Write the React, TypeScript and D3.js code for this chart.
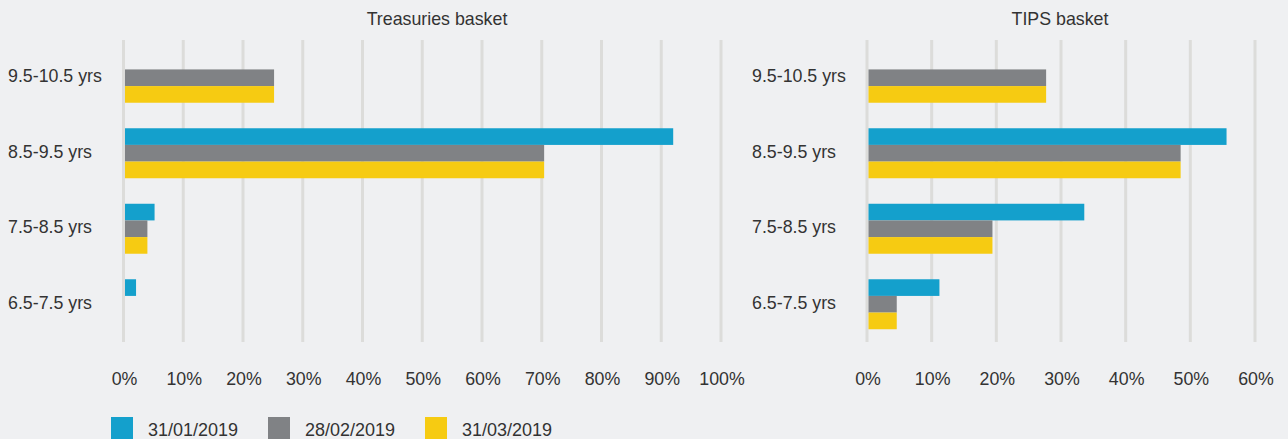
import React from "react";
import * as d3 from "d3";

const categories = ["9.5-10.5 yrs", "8.5-9.5 yrs", "7.5-8.5 yrs", "6.5-7.5 yrs"];
const seriesNames = ["31/01/2019", "28/02/2019", "31/03/2019"];
const seriesColors = ["#14a0cc", "#808285", "#f6cb12"];

const treasJan = [0, 92, 5.2, 2.1];
const treasFeb = [25.2, 70.4, 4, 0];
const treasMar = [25.2, 70.4, 4, 0];

const tipsJan = [0, 55.6, 33.6, 11.2];
const tipsFeb = [27.7, 48.5, 19.4, 4.6];
const tipsMar = [27.7, 48.5, 19.4, 4.6];

const treasTicks = [0, 10, 20, 30, 40, 50, 60, 70, 80, 90, 100];
const tipsTicks = [0, 10, 20, 30, 40, 50, 60];

const W = 1288;
const H = 439;
const FONT = "'Liberation Sans', Arial, Helvetica, sans-serif";
const TEXT = "#333333";
const BG = "#eff0f2";
const GRID = "#dcdcda";

type PanelProps = {
  title: string;
  titleX: number;
  labelX: number;
  x0: number;
  x1: number;
  maxVal: number;
  ticks: number[];
  series: number[][];
};

function Panel({ title, titleX, labelX, x0, x1, maxVal, ticks, series }: PanelProps) {
  const x = d3.scaleLinear().domain([0, maxVal]).range([x0, x1]);
  const y = d3
    .scaleBand<string>()
    .domain(categories)
    .range([40, 342])
    .paddingInner(0.338)
    .paddingOuter(0.169);
  const sub = d3
    .scaleBand<string>()
    .domain(seriesNames)
    .range([0, y.bandwidth()]);
  return (
    <g>
      <text
        x={titleX}
        y={25}
        textAnchor="middle"
        fontSize={17.8}
        fill={TEXT}
        fontFamily={FONT}
      >
        {title}
      </text>
      {ticks.map((t) => (
        <g key={t}>
          <line
            x1={x(t)}
            x2={x(t)}
            y1={40}
            y2={342}
            stroke={GRID}
            strokeWidth={3}
          />
          <text
            x={x(t) + 1}
            y={385}
            textAnchor="middle"
            fontSize={17.8}
            fill={TEXT}
            fontFamily={FONT}
          >
            {t + "%"}
          </text>
        </g>
      ))}
      {categories.map((c) => (
        <text
          key={c}
          x={labelX}
          y={(y(c) as number) + y.bandwidth() / 2 + 4.5}
          fontSize={17.8}
          fill={TEXT}
          fontFamily={FONT}
        >
          {c}
        </text>
      ))}
      {series.map((vals, si) =>
        vals.map((v, ci) =>
          v > 0 ? (
            <rect
              key={si + "-" + ci}
              x={x(0) + 1.5}
              y={(y(categories[ci]) as number) + (sub(seriesNames[si]) as number)}
              width={Math.max(0, x(v) - x(0) - 1.5)}
              height={sub.bandwidth()}
              fill={seriesColors[si]}
            />
          ) : null
        )
      )}
    </g>
  );
}

export default function App() {
  const legendX = d3.scaleLinear().domain([0, 1]).range([111, 268]);
  return (
    <svg
      width={W}
      height={H}
      style={{ position: "absolute", left: 0, top: 0, background: BG }}
    >
      <rect x={0} y={0} width={W} height={H} fill={BG} />
      <Panel
        title="Treasuries basket"
        titleX={437}
        labelX={8}
        x0={123.5}
        x1={721}
        maxVal={100}
        ticks={treasTicks}
        series={[treasJan, treasFeb, treasMar]}
      />
      <Panel
        title="TIPS basket"
        titleX={1060}
        labelX={752}
        x0={867}
        x1={1255}
        maxVal={60}
        ticks={tipsTicks}
        series={[tipsJan, tipsFeb, tipsMar]}
      />
      {seriesNames.map((s, i) => (
        <g key={s}>
          <rect x={legendX(i)} y={417} width={22} height={22} fill={seriesColors[i]} />
          <text
            x={legendX(i) + 37}
            y={436}
            fontSize={18}
            fill={TEXT}
            fontFamily={FONT}
          >
            {s}
          </text>
        </g>
      ))}
    </svg>
  );
}
